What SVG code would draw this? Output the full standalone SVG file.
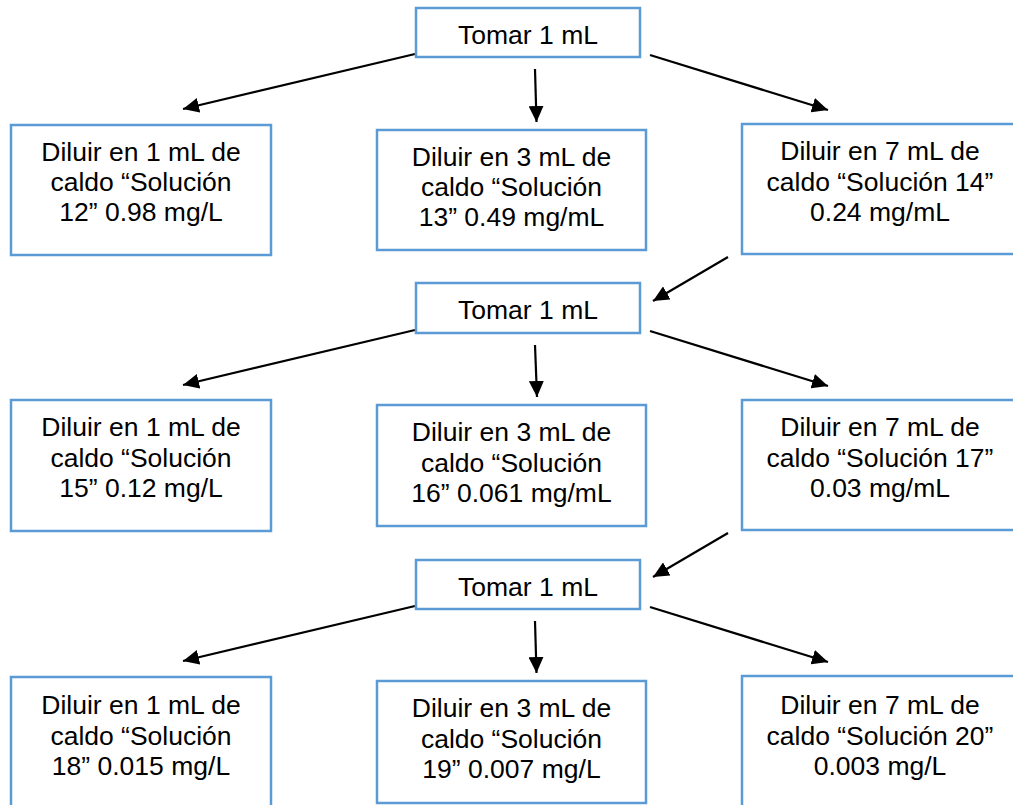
<svg xmlns="http://www.w3.org/2000/svg" width="1013" height="805" viewBox="0 0 1013 805">
<defs>
<style>
.box{fill:#ffffff;stroke:#5b9bd5;stroke-width:2.5}
.t{font-family:"Liberation Sans",Arial,sans-serif;font-size:26.5px;fill:#000;text-anchor:middle}
.c{stroke:#000;stroke-width:2.2;fill:none;marker-end:url(#ah)}
</style>
<marker id="ah" markerUnits="userSpaceOnUse" markerWidth="17" markerHeight="15" refX="16" refY="7.5" orient="auto">
<path d="M0,0 L16,7.5 L0,15 z" fill="#000"/>
</marker>
</defs>
<rect width="1013" height="805" fill="#ffffff"/>
<g id="connectors">
<line class="c" x1="415" y1="54" x2="183" y2="109"/>
<line class="c" x1="535" y1="69" x2="536.5" y2="122"/>
<line class="c" x1="650" y1="55" x2="828" y2="110"/>
<line class="c" x1="728" y1="257" x2="653" y2="301"/>
<line class="c" x1="415" y1="330" x2="183" y2="385"/>
<line class="c" x1="535" y1="345" x2="537" y2="397"/>
<line class="c" x1="650" y1="331" x2="828" y2="386"/>
<line class="c" x1="728" y1="533" x2="653" y2="577"/>
<line class="c" x1="415" y1="606" x2="183" y2="661"/>
<line class="c" x1="535" y1="621" x2="536.5" y2="673"/>
<line class="c" x1="650" y1="607" x2="828" y2="662"/>
</g>
<g id="tomar1"><rect class="box" x="416" y="8" width="224" height="49"/><text class="t" x="528" y="43.5">Tomar 1 mL</text></g>
<g id="sol12"><rect class="box" x="11" y="125" width="260" height="130"/><text class="t"><tspan x="141" y="160.5">Diluir en 1 mL de</tspan><tspan x="141" y="191">caldo “Solución</tspan><tspan x="141" y="221">12” 0.98 mg/L</tspan></text></g>
<g id="sol13"><rect class="box" x="377" y="130" width="269" height="120"/><text class="t"><tspan x="511.5" y="165.5">Diluir en 3 mL de</tspan><tspan x="511.5" y="196">caldo “Solución</tspan><tspan x="511.5" y="226">13” 0.49 mg/mL</tspan></text></g>
<g id="sol14"><rect class="box" x="742" y="124" width="276" height="130"/><text class="t"><tspan x="880" y="160">Diluir en 7 mL de</tspan><tspan x="880" y="190.5">caldo “Solución 14”</tspan><tspan x="880" y="220.5">0.24 mg/mL</tspan></text></g>
<g id="tomar2"><rect class="box" x="416" y="283" width="224" height="50"/><text class="t" x="528" y="319">Tomar 1 mL</text></g>
<g id="sol15"><rect class="box" x="11" y="400" width="260" height="131"/><text class="t"><tspan x="141" y="436">Diluir en 1 mL de</tspan><tspan x="141" y="466.5">caldo “Solución</tspan><tspan x="141" y="496.5">15” 0.12 mg/L</tspan></text></g>
<g id="sol16"><rect class="box" x="377" y="405" width="269" height="121"/><text class="t"><tspan x="511.5" y="441">Diluir en 3 mL de</tspan><tspan x="511.5" y="471.5">caldo “Solución</tspan><tspan x="511.5" y="501.5">16” 0.061 mg/mL</tspan></text></g>
<g id="sol17"><rect class="box" x="742" y="400" width="276" height="130"/><text class="t"><tspan x="880" y="436">Diluir en 7 mL de</tspan><tspan x="880" y="466.5">caldo “Solución 17”</tspan><tspan x="880" y="496.5">0.03 mg/mL</tspan></text></g>
<g id="tomar3"><rect class="box" x="416" y="560" width="224" height="49"/><text class="t" x="528" y="595.5">Tomar 1 mL</text></g>
<g id="sol18"><rect class="box" x="11" y="677" width="260" height="140"/><text class="t"><tspan x="141" y="714">Diluir en 1 mL de</tspan><tspan x="141" y="744.5">caldo “Solución</tspan><tspan x="141" y="774.5">18” 0.015 mg/L</tspan></text></g>
<g id="sol19"><rect class="box" x="377" y="681" width="269" height="122"/><text class="t"><tspan x="511.5" y="717">Diluir en 3 mL de</tspan><tspan x="511.5" y="747.5">caldo “Solución</tspan><tspan x="511.5" y="777.5">19” 0.007 mg/L</tspan></text></g>
<g id="sol20"><rect class="box" x="742" y="676" width="276" height="140"/><text class="t"><tspan x="880" y="714">Diluir en 7 mL de</tspan><tspan x="880" y="744.5">caldo “Solución 20”</tspan><tspan x="880" y="774.5">0.003 mg/L</tspan></text></g>
</svg>
